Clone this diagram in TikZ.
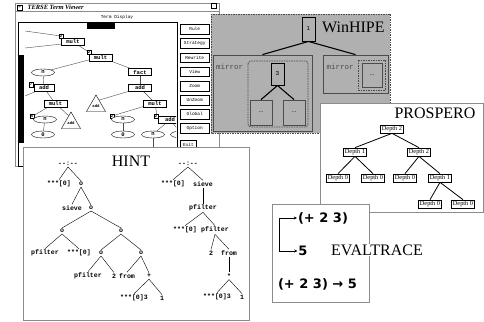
\documentclass[tikz,border=0pt]{standalone}
\usepackage{fontspec}
\setmainfont{Liberation Serif}
\setsansfont{DejaVu Sans}
\setmonofont{Liberation Mono}
\usetikzlibrary{arrows.meta}
\usetikzlibrary{shapes.geometric}
\definecolor{wg}{rgb}{.69,.69,.69}
\definecolor{dg}{rgb}{.30,.30,.30}
\definecolor{lg}{rgb}{.55,.55,.55}
\tikzstyle{title}=[font=\fontsize{16}{16}\selectfont, inner sep=1pt]
\tikzstyle{hn}=[font=\fontsize{6.6}{7}\selectfont\ttfamily\bfseries, inner sep=1pt]
\tikzstyle{tbox}=[draw=black, fill=white, minimum width=23pt, minimum height=7pt, inner sep=0pt, font=\fontsize{5.5}{6}\selectfont\ttfamily\bfseries]
\tikzstyle{tell}=[draw=black, fill=white, ellipse, minimum width=23pt, minimum height=7pt, inner sep=0pt, font=\fontsize{5.5}{6}\selectfont\ttfamily\bfseries]
\tikzstyle{ttri}=[draw=black, fill=white, regular polygon, regular polygon sides=3, minimum size=22pt, inner sep=0pt, font=\fontsize{4}{4}\selectfont\ttfamily\bfseries]
\tikzstyle{tnum}=[draw=black, fill=white, minimum size=4.5pt, inner sep=0pt, font=\fontsize{4}{4}\selectfont\ttfamily\bfseries]
\tikzstyle{btn}=[draw=black, fill=white, minimum width=29pt, minimum height=9.5pt, inner sep=0pt, anchor=west, font=\fontsize{4.5}{5}\selectfont\ttfamily]
\tikzstyle{wnode}=[draw=black, line width=.9pt, fill=wg, minimum width=13pt, inner sep=0pt, font=\fontsize{6}{6}\selectfont\ttfamily]
\tikzstyle{mbox}=[draw=dg, line width=.8pt, inner sep=0pt]
\tikzstyle{pn}=[draw=black, fill=white, line width=.6pt, inner sep=1.2pt, font=\fontsize{6.3}{6.3}\selectfont]
\tikzstyle{ev}=[font=\fontsize{13}{13}\selectfont\sffamily\bfseries, inner sep=1pt]

\begin{document}
\begin{tikzpicture}[x=1pt, y=-1pt]

      \useasboundingbox (0,0) rectangle (484,321);

      % TERSE window
      \draw[lg, fill=white] (15,3) rectangle (219,166);
      \draw[lg] (15,11) -- (219,11);
      \node[draw, minimum size=5pt, inner sep=0pt, font=\fontsize{5}{5}\selectfont] (ticon) at (19.5,7.5) {*};
      \node[anchor=west, font=\fontsize{6.5}{7}\selectfont\itshape\bfseries] (ttitle) at (24,7.5) {TERSE Term Viewer};
      \node[draw, minimum size=5pt, inner sep=0pt] (tclose) at (214,5.5) {};
      \node[font=\fontsize{4.5}{5}\selectfont\ttfamily] (tdisp) at (117,17) {Term Display};
      \draw[line width=1pt] (18,23) rectangle (177,166);
      \fill (87,23) rectangle (115,29);
      \fill (19,55) rectangle (24,143);

      {\footnotesize
      \node[btn] (rule) at (180,29) {Rule};
      \node[btn] (strat) at (180,43) {Strategy};
      \node[btn] (rewr) at (180,57.5) {Rewrite};
      \node[btn] (view) at (180,71.5) {View};
      \node[btn] (zoom) at (180,86) {Zoom};
      \node[btn] (unzoom) at (180,100) {UnZoom};
      \node[btn] (global) at (180,114) {Global};
      \node[btn] (option) at (180,128) {Option};
      \node[btn, line width=.9pt, minimum width=16pt] (exit) at (180,145) {Exit};
      }

      \begin{scope}
      \clip (25,24) rectangle (176,165);
      \coordinate (tl1) at (25,31);
      \coordinate (tl2) at (25,48);
      \coordinate (tl3) at (25,96);
      \coordinate (tdown) at (153,166);

      \draw[dg] (tl1) -- (61,36);
      \draw[dg] (tl2) -- (62,44);
      \draw[dg] (73,42) -- (92,54);
      \draw[dg] (100,57) -- (43,72);
      \draw[dg] (100,57) -- (140,72);
      \draw[dg] (43,72) -- (44,88);
      \draw[dg] (140,72) -- (140,88);
      \draw[dg] (tl3) -- (44,88);
      \draw[dg] (44,88) -- (55,103);
      \draw[dg] (140,88) -- (96,101);
      \draw[dg] (140,88) -- (155,103);
      \draw[dg] (55,103) -- (33,116);
      \draw[dg] (55,103) -- (71,118);
      \draw[dg] (45,119) -- (43,134);
      \draw[dg] (155,103) -- (112,116);
      \draw[dg] (155,103) -- (157,116);
      \draw[dg] (123,119) -- (123,134);
      \draw[dg] (170,120) -- (153,134);
      \draw[dg] (170,120) -- (182,134);
      \draw[dg] (153,134) -- (tdown);

      \node[tnum] (t1n) at (61,36) {2};
      \node[tbox] (t1) at (73,41.5) {mult};
      \node[tnum] (t2n) at (89,52) {2};
      \node[tbox] (t2) at (100.5,57.5) {mult};
      \node[tell] (t3) at (43,72.5) {n};
      \node[tbox] (t4) at (140,72) {fact};
      \node[tnum] (t5n) at (31,84.5) {7};
      \node[tbox, minimum width=20pt] (t5) at (44,88) {add};
      \node[tbox] (t6) at (140,88) {add};
      \node[tbox] (t7) at (55.5,103.5) {mult};
      \node[ttri] (t8) at (71,123) {add};
      \node[ttri] (t9) at (96,106) {add};
      \node[tbox] (t10) at (155,103.5) {mult};
      \node[tnum] (t11n) at (32,116) {5};
      \node[tell] (t11) at (45,119.5) {n};
      \node[tell] (t12) at (43,134.5) {0};
      \node[tnum] (t13n) at (112,116) {2};
      \node[tell] (t13) at (123,119.5) {n};
      \node[tell] (t14) at (123,134.5) {0};
      \node[tnum] (t15n) at (156,116) {2};
      \node[tbox] (t15) at (170,120) {add};
      \node[tell] (t16) at (153,134.5) {n};
      \node[tell] (t17) at (182,134.5) {n};
      \end{scope}

      % WinHIPE
      \fill[wg] (211,14) rectangle (390,133);
      \draw[dg, line width=.8pt, dash pattern=on 1.5pt off 1pt] (211,14) rectangle (390,133);
      \node[title, anchor=west] (wtitle) at (321,27) {WinHIPE};

      \node[mbox, minimum width=99pt, minimum height=76pt] (wml) at (262.5,93) {};
      \node[mbox, minimum width=65pt, minimum height=38pt] (wmr) at (355.5,74) {};
      \node[font=\fontsize{7.5}{8}\selectfont\ttfamily, text=dg] (wmlt) at (229.5,67) {mirror};
      \node[font=\fontsize{7.5}{8}\selectfont\ttfamily, text=dg] (wmrt) at (340,67) {mirror};
      \draw[dg, line width=.8pt, dash pattern=on 1.5pt off 1pt, rounded corners=3pt] (248,61) rectangle (308,127);
      \draw[dg, line width=.8pt, dash pattern=on 1.5pt off 1pt] (358,60) rectangle (385,90);

      \node[wnode, minimum height=24pt] (w1) at (308.5,29) {1};
      \node[wnode, minimum height=22pt] (w3) at (277.5,74) {3};
      \node[mbox, fill=wg, minimum width=22pt, minimum height=25pt, font=\fontsize{6}{6}\selectfont] (w3a) at (261,112.5) {...};
      \node[mbox, fill=wg, minimum width=22pt, minimum height=25pt, font=\fontsize{6}{6}\selectfont] (w3b) at (294,112.5) {...};
      \node[mbox, fill=wg, minimum width=20pt, minimum height=24pt, font=\fontsize{6}{6}\selectfont] (w4) at (372,75) {...};

      \draw[line width=1.6pt] (w1.south west) -- (w1.south east);
      \foreach \p in {wml, wmr}
        \draw[line width=1.1pt] (w1.south) -- (\p.north);
      \foreach \p in {w3a, w3b}
        \draw[line width=1.1pt] (w3.south) -- (\p.north);

      % HINT
      \draw[lg, fill=white, line width=.7pt] (23,147) rectangle (249,320);
      \node[title] (htitle) at (131,161) {HINT};

      {\footnotesize
      \node[hn] (la) at (68,164) {--:--};
      \node[hn] (lb1) at (59,184) {***[0]};
      \node[hn] (lb2) at (81,184) {o};
      \node[hn] (lc1) at (72,208) {sieve};
      \node[hn] (lc2) at (91,208) {o};
      \node[hn] (ld1) at (62,231) {o};
      \node[hn] (ld2) at (121,231) {o};
      \node[hn] (le1) at (45,253) {pfilter};
      \node[hn] (le2) at (79,253) {***[0]};
      \node[hn] (le3) at (101,253) {o};
      \node[hn] (le4) at (141,253) {o};
      \node[hn] (lf1) at (88,276) {pfilter};
      \node[hn] (lf2) at (114,276) {2};
      \node[hn] (lf3) at (127,276) {from};
      \node[hn] (lf4) at (149,276) {+};
      \node[hn] (lg1) at (134,298) {***[0]3};
      \node[hn] (lg2) at (162,298) {1};

      \node[hn] (ra) at (188,164) {--:--};
      \node[hn] (rb1) at (173,184) {***[0]};
      \node[hn] (rb2) at (203,184) {sieve};
      \node[hn] (rc) at (203,208) {pfilter};
      \node[hn] (rd1) at (185,230) {***[0]};
      \node[hn] (rd2) at (215,230) {pfilter};
      \node[hn] (re1) at (211,253) {2};
      \node[hn] (re2) at (229,253) {from};
      \node[hn] (rf) at (229,276) {*};
      \node[hn] (rg1) at (217,297) {***[0]3};
      \node[hn] (rg2) at (242,297) {1};
      }

      % left tree
      \foreach \p in {lb1, lb2}
        \draw (la.south) -- (\p.north);
      \foreach \p in {lc1, lc2}
        \draw (lb2.south) -- (\p.north);
      \foreach \p in {ld1, ld2}
        \draw (lc2.south) -- (\p.north);
      \foreach \p in {le1, le2}
        \draw (ld1.south) -- (\p.north);
      \foreach \p in {le3, le4}
        \draw (ld2.south) -- (\p.north);
      \foreach \p in {lf1, lf2}
        \draw (le3.south) -- (\p.north);
      \foreach \p in {lf3, lf4}
        \draw (le4.south) -- (\p.north);
      \foreach \p in {lg1, lg2}
        \draw (lf4.south) -- (\p.north);

      % right tree
      \foreach \p in {rb1, rb2}
        \draw (ra.south) -- (\p.north);
      \draw (rb2.south) -- (rc.north);
      \foreach \p in {rd1, rd2}
        \draw (rc.south) -- (\p.north);
      \foreach \p in {re1, re2}
        \draw (rd2.south) -- (\p.north);
      \draw (re2.south) -- (rf.north);
      \foreach \p in {rg1, rg2}
        \draw (rf.south) -- (\p.north);

      % PROSPERO
      \draw[lg, fill=white, line width=.7pt] (320,103) rectangle (483,212);
      \node[title] (ptitle) at (435,113) {PROSPERO};

      \node[pn] (p2) at (392,129) {Depth 2};
      \node[pn] (p21) at (355,152) {Depth 1};
      \node[pn] (p22) at (419,152) {Depth 2};
      \node[pn] (p210) at (338,178) {Depth 0};
      \node[pn] (p211) at (373,178) {Depth 0};
      \node[pn] (p220) at (405,178) {Depth 0};
      \node[pn] (p221) at (440,178) {Depth 1};
      \node[pn] (p2210) at (430,204) {Depth 0};
      \node[pn] (p2211) at (463,204) {Depth 0};

      \foreach \p in {p21, p22}
        \draw[line width=.8pt] (p2.south) -- (\p.north);
      \foreach \p in {p210, p211}
        \draw[line width=.8pt] (p21.south) -- (\p.north);
      \foreach \p in {p220, p221}
        \draw[line width=.8pt] (p22.south) -- (\p.north);
      \foreach \p in {p2210, p2211}
        \draw[line width=.8pt] (p221.south) -- (\p.north);

      % EVALTRACE
      \draw[lg, fill=white, line width=.7pt] (272,204) rectangle (369,302);
      \node[ev] (e1) at (323,218) {(+ 2 3)};
      \node[ev] (e2) at (303,251) {5};
      \node[ev] (e3) at (317.5,284) {(+ 2 3) → 5};
      \coordinate (ebar) at (279,0);
      \draw[line width=.7pt, {Stealth[length=3pt,width=3pt]}-{Stealth[length=3pt,width=3pt]}]
        (e1.west) -- (e1.west -| ebar) |- (e2.west);
      \node[title, fill=white] (etitle) at (377,250) {EVALTRACE};

    \end{tikzpicture}
\end{document}
